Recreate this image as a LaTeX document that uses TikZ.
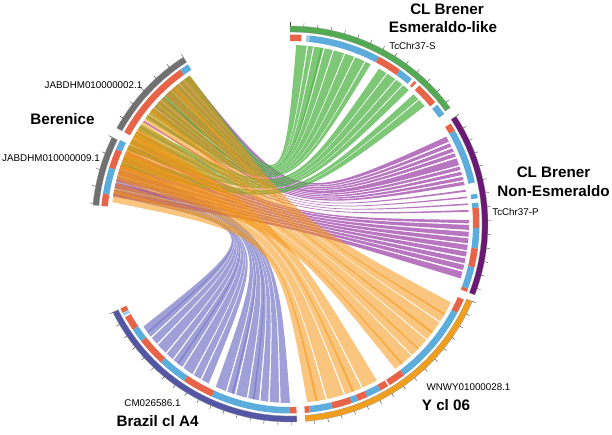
\documentclass[tikz,border=0pt]{standalone}
\usepackage{fontspec}
\setmainfont{Liberation Sans}
\usetikzlibrary{calc}
\definecolor{cgreen}{RGB}{82,170,82}
\definecolor{cpurple}{RGB}{105,25,115}
\definecolor{corange}{RGB}{240,158,30}
\definecolor{cbrazil}{RGB}{85,85,165}
\definecolor{cgray}{RGB}{112,112,112}
\definecolor{tred}{RGB}{232,100,72}
\definecolor{tblue}{RGB}{92,172,220}
\definecolor{rgreen}{RGB}{70,175,60}
\definecolor{rpurple}{RGB}{155,60,165}
\definecolor{rorange}{RGB}{245,150,20}
\definecolor{rblue}{RGB}{120,120,200}
\newcommand{\band}[5]{\fill[#5] (#1:#3) arc[start angle=#1,end angle=#2,radius=#3] -- (#2:#4) arc[start angle=#2,end angle=#1,radius=#4] -- cycle;}
\newcommand{\rib}[5]{\fill[#5] (#1:179) arc[start angle=#1,end angle=#2,radius=179]
  .. controls ($0.075*(#2:179)+0.075*(#3:179)$) .. (#3:179) arc[start angle=#3,end angle=#4,radius=179]
  .. controls ($0.075*(#4:179)+0.075*(#1:179)$) .. (#1:179) -- cycle;}
\tikzset{
  ribA/.style={fill opacity=0.7},
  ribB/.style={fill opacity=0.55},
  tickmark/.style={draw=black!75,line width=0.4pt},
  big/.style={font=\bfseries\fontsize{15.2}{17}\selectfont,anchor=base,inner sep=0pt},
  small/.style={font=\fontsize{9.8}{11}\selectfont,anchor=base,inner sep=0pt},
  chrom/.style={draw=black!40,line width=0.3pt}
}
\begin{document}
\begin{tikzpicture}[x=1pt,y=1pt]
\useasboundingbox (-290,-211) rectangle (322,224);
% ---------- ribbons ----------
% Brazil cl A4 -> Berenice
\foreach \a/\b in {215/219,219.5/222,222.5/226,226.5/229,229.5/233,233.5/237,237.5/240,240.5/243,245.5/249,249.5/252,252.5/256,256.5/260,260.5/263,263.5/266.5,267/270,217/217.6,231/231.6,251/251.6,258/258.6}{
  \pgfmathsetmacro\ha{171-(\b-215)*0.2}\pgfmathsetmacro\hb{171-(\a-215)*0.2}
  \rib{\a}{\b}{\ha}{\hb}{rblue,ribA}}
% CL Brener Non-Esmeraldo -> Berenice
\foreach \a/\b in {29.2/27.4,26.8/25.6,25/23.8,23.3/22.1,21.5/19.2,18.7/17.6,17/15.9,15.3/14.2,13.7/12.6,11/10.4,8.8/8.3,6.6/6.1,4.5/3.9,1.3/0.2,-0.3/-1.9,-2.5/-4.1,-4.6/-6.2,-6.7/-8.4,-8.9/-10.5,-11.1/-12.7,-13.2/-14.9,-15.5/-17.7}{
  \pgfmathsetmacro\ha{153.5-\b}\pgfmathsetmacro\hb{153.5-\a}
  \rib{\a}{\b}{\ha}{\hb}{rpurple,ribA}}
% CL Brener Esmeraldo-like -> Berenice
\foreach \a/\b in {88/84.6,84.2/82.6,82.2/79.2,78.8/76.2,75.8/72.4,72/69,68.6/65.4,65/63.2,60.2/57.4,57/54,53.6/51.2,50.8/48.4,46.4/44.2,43.8/41.2,80/79.5}{
  \pgfmathsetmacro\ha{124+(88-\b)*0.8}\pgfmathsetmacro\hb{124+(88-\a)*0.8}
  \rib{\a}{\b}{\ha}{\hb}{rgreen,ribA}}
% Y cl 06 -> Berenice (two bundles)
\foreach \a/\b in {-26/-33,-33.4/-40,-40.4/-47,-47.4/-54,-30/-30.6,-37/-37.7,-44/-44.5,-51/-51.6}{
  \pgfmathsetmacro\ha{124+(-26-\b)*1.464}\pgfmathsetmacro\hb{124+(-26-\a)*1.464}
  \rib{\a}{\b}{\ha}{\hb}{rorange,ribB}}
\foreach \a/\b in {-61/-66,-66.5/-72,-72.5/-78,-78.5/-84.5,-69/-69.7,-81/-81.8}{
  \pgfmathsetmacro\ha{148+(-61-\b)*1.064}\pgfmathsetmacro\hb{148+(-61-\a)*1.064}
  \rib{\a}{\b}{\ha}{\hb}{rorange,ribB}}
% ---------- outer chromosome arcs ----------
\band{90}{36}{192}{198}{cgreen,chrom}
\band{33}{-21}{192}{198}{cpurple,chrom}
\band{-23}{-85.5}{192}{198}{corange,chrom}
\band{206.5}{272}{192}{198}{cbrazil,chrom}
\band{122.6}{151}{192}{198}{cgray,chrom}
\band{154}{174.5}{192}{198}{cgray,chrom}
% ticks
\foreach \t in {90,86,...,36} {\draw[tickmark] (\t:198) -- (\t:201.5);}
\foreach \t in {33,29,...,-21} {\draw[tickmark] (\t:198) -- (\t:201.5);}
\foreach \t in {-23,-27,...,-85} {\draw[tickmark] (\t:198) -- (\t:201.5);}
\foreach \t in {206.5,210.5,...,272} {\draw[tickmark] (\t:198) -- (\t:201.5);}
\foreach \t in {122.6,127.6,...,151} {\draw[tickmark] (\t:198) -- (\t:201.5);}
\foreach \t in {154,159,...,174.5} {\draw[tickmark] (\t:198) -- (\t:201.5);}
% ---------- track ----------
\foreach \a/\b/\c in {90/86.5/tred,85/84/tblue!60,84/62/tblue,62/54.5/tred,54.5/50/tblue,49/48.2/tred,47/40/tred,39/35.5/tblue,
  32/29.5/tred,29.5/12.7/tblue,9.2/7.8/tblue,6.5/5/tblue,5/-1.2/tred,-1.2/-7.5/tblue,-7.5/-13.3/tred,-13.3/-20/tblue,-20/-21/tred,
  -23.5/-28/tred,-28/-53/tblue,-53/-58.3/tred,-58.8/-61.5/tred,-61.5/-66/tblue,-66/-69/tred,-69/-71/tblue,-71/-77/tred,-77/-84/tblue,-84/-85.5/tred,
  206.5/208/tred,208/209/tblue!60,209.5/214/tred,214/218.3/tblue,218.3/227/tred,227/236/tblue,236/245.6/tred,245.6/270/tblue,270/272/tred,
  122.6/125.5/tblue,125.5/151/tred,153.7/156.8/tblue,156.8/162.7/tred,162.7/170.8/tblue,170.8/174.5/tred}{
  \band{\a}{\b}{183}{189.5}{\c}}
% ---------- labels ----------
\node[big] (esmA) at (157,209) {CL Brener};
\node[big] (esmB) at (153,191) {Esmeraldo-like};
\node[small] (chrS) at (122.5,174) {TcChr37-S};
\node[big] (nonA) at (263.5,46.3) {CL Brener};
\node[big] (nonB) at (263.5,27.3) {Non-Esmeraldo};
\node[small] (chrP) at (225.5,8) {TcChr37-P};
\node[big] (ber) at (-227.5,99) {Berenice};
\node[small] (jab2) at (-196.5,135) {JABDHM010000002.1};
\node[small] (jab9) at (-239,62) {JABDHM010000009.1};
\node[small] (cm) at (-137.5,-183) {CM026586.1};
\node[big] (bra) at (-132.5,-202) {Brazil cl A4};
\node[small] (wn) at (178.5,-167) {WNWY01000028.1};
\node[big] (ycl) at (156,-186) {Y cl 06};
\end{tikzpicture}
\end{document}
